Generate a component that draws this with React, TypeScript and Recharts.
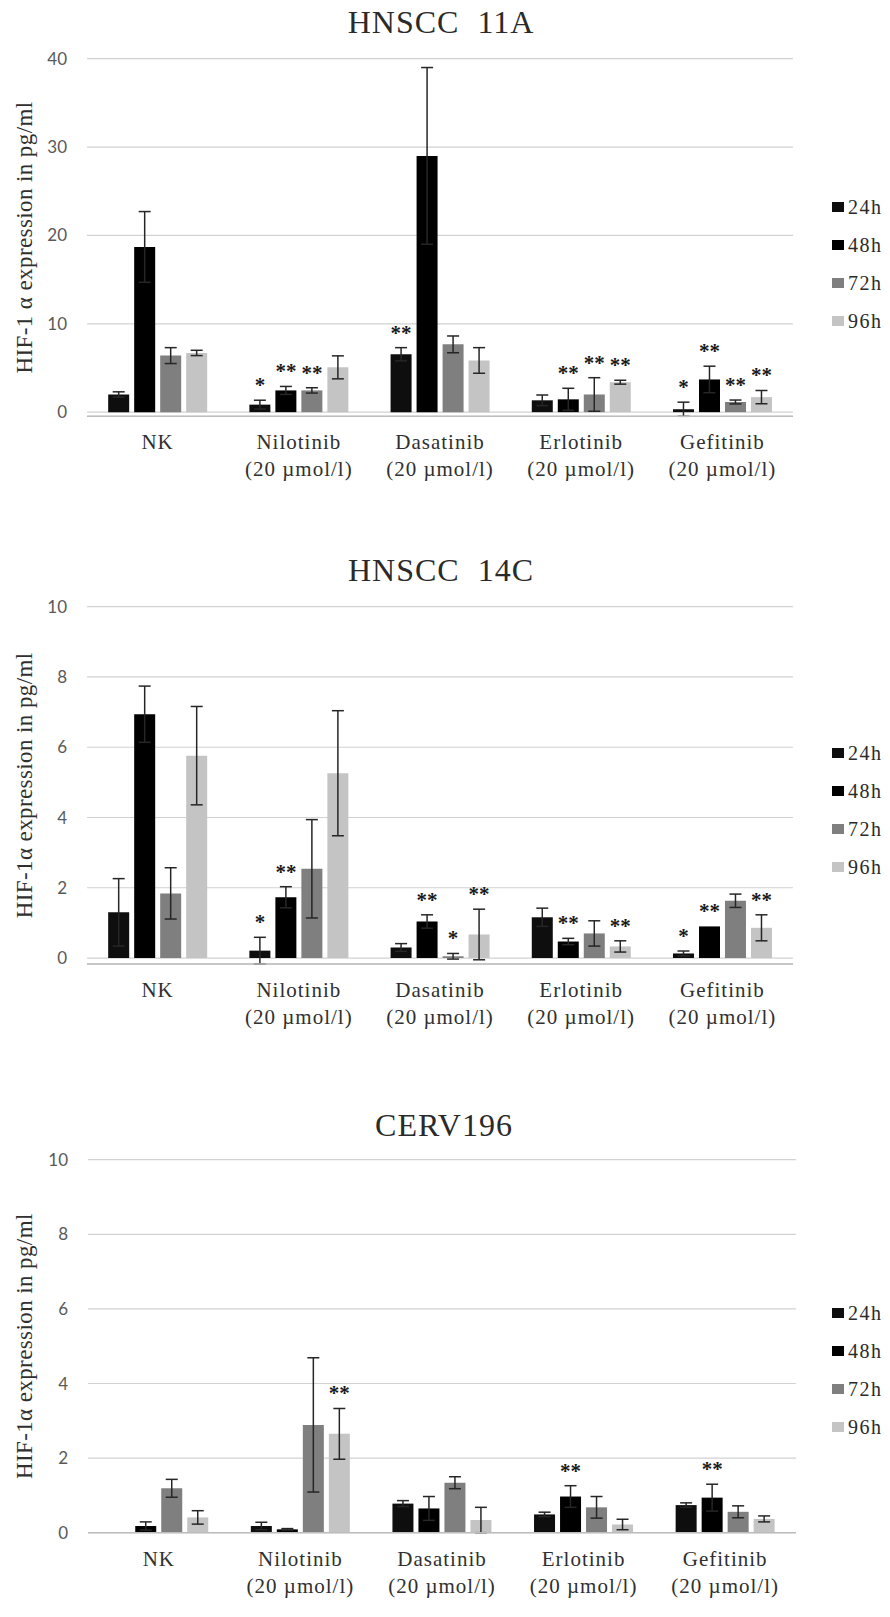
import React from 'react';
import { BarChart, Bar, XAxis, YAxis, CartesianGrid, ErrorBar, LabelList, Legend, Label } from 'recharts';

const categories = ['NK', 'Nilotinib', 'Dasatinib', 'Erlotinib', 'Gefitinib'];
const doseLabels = ['', '(20 µmol/l)', '(20 µmol/l)', '(20 µmol/l)', '(20 µmol/l)'];
const seriesNames = ['24h', '48h', '72h', '96h'];
const seriesColors = ['#0e0e0e', '#000000', '#7f7f7f', '#c4c4c4'];

// HNSCC 11A
const a24 = [2.0, 0.85, 6.55, 1.34, 0.33];
const a48 = [18.7, 2.46, 29.0, 1.45, 3.7];
const a72 = [6.4, 2.46, 7.67, 2.0, 1.15];
const a96 = [6.7, 5.07, 5.85, 3.39, 1.7];
const aErr24 = [0.3, 0.5, 0.75, 0.6, 0.8];
const aErr48 = [4.0, 0.45, 10.0, 1.25, 1.5];
const aErr72 = [0.9, 0.3, 0.95, 1.9, 0.22];
const aErr96 = [0.3, 1.3, 1.45, 0.22, 0.75];
const aSig24 = ['', '*', '**', '', '*'];
const aSig48 = ['', '**', '', '**', '**'];
const aSig72 = ['', '**', '', '**', '**'];
const aSig96 = ['', '', '', '**', '**'];

// HNSCC 14C
const b24 = [1.3, 0.21, 0.3, 1.16, 0.13];
const b48 = [6.94, 1.73, 1.04, 0.47, 0.9];
const b72 = [1.84, 2.54, 0.05, 0.7, 1.63];
const b96 = [5.76, 5.26, 0.67, 0.33, 0.86];
const bErr24 = [0.96, 0.38, 0.11, 0.26, 0.07];
const bErr48 = [0.8, 0.3, 0.19, 0.09, 0];
const bErr72 = [0.73, 1.4, 0.08, 0.36, 0.19];
const bErr96 = [1.4, 1.78, 0.72, 0.16, 0.37];
const bSig24 = ['', '*', '', '', '*'];
const bSig48 = ['', '**', '**', '**', '**'];
const bSig72 = ['', '', '*', '', ''];
const bSig96 = ['', '', '**', '**', '**'];

// CERV196
const c24 = [0, 0.18, 0.78, 0.49, 0.74];
const c48 = [0.18, 0.09, 0.65, 0.97, 0.94];
const c72 = [1.19, 2.89, 1.34, 0.68, 0.56];
const c96 = [0.41, 2.65, 0.34, 0.22, 0.37];
const cErr24 = [0, 0.1, 0.08, 0.06, 0.06];
const cErr48 = [0.11, 0.02, 0.32, 0.29, 0.36];
const cErr72 = [0.24, 1.8, 0.16, 0.29, 0.16];
const cErr96 = [0.18, 0.68, 0.34, 0.14, 0.08];
const cSig24 = ['', '', '', '', ''];
const cSig48 = ['', '', '', '**', '**'];
const cSig72 = ['', '', '', '', ''];
const cSig96 = ['', '**', '', '', ''];

const ticks40 = [0, 10, 20, 30, 40];
const ticks10 = [0, 2, 4, 6, 8, 10];

const serif = "'Liberation Serif', 'DejaVu Serif', serif";

const makeStar = (errs: number[], sigs: string[]) => (props: any) => {
  const i = props.index;
  const s = sigs[i];
  if (!s) return null;
  const vb = props.viewBox || {};
  const x = vb.x ?? props.x;
  const y = vb.y ?? props.y;
  const w = vb.width ?? props.width;
  const h = vb.height ?? props.height;
  const v = Number(props.value);
  const top = v > 0 ? y - (errs[i] * h) / v : y;
  return (
    <text
      x={x + w / 2}
      y={top - 8}
      textAnchor="middle"
      style={{ fontFamily: serif, fontSize: 21, fontWeight: 700, fill: '#1a1a1a' }}
    >
      {s}
    </text>
  );
};

const catStyle: React.CSSProperties = { fontFamily: serif, fontSize: 21, letterSpacing: 1, fill: '#303030' };

const CatTick = (props: any) => {
  const { x, y, payload } = props;
  const idx = categories.indexOf(payload.value);
  const dose = doseLabels[idx];
  return (
    <g>
      <text x={x} y={y + 33} textAnchor="middle" style={catStyle}>
        {payload.value}
      </text>
      {dose ? (
        <text x={x} y={y + 60} textAnchor="middle" style={catStyle}>
          {dose}
        </text>
      ) : null}
    </g>
  );
};

const legendContent = (props: any) => {
  const payload = props.payload && props.payload.length ? props.payload : seriesNames.map((n, s) => ({ value: n, color: seriesColors[s] }));
  return (
    <div>
      {payload.map((p: any) => (
        <div key={p.value} style={{ height: 38, display: 'flex', alignItems: 'center' }}>
          <span style={{ width: 12, height: 10, background: p.color, display: 'inline-block', marginRight: 4 }} />
          <span style={{ fontFamily: serif, fontSize: 20, letterSpacing: 1.5, color: '#2a2a2a', lineHeight: '20px' }}>{p.value}</span>
        </div>
      ))}
    </div>
  );
};

type PanelProps = {
  top: number;
  height: number;
  plotTop: number;
  plotBottom: number;
  plotLeft: number;
  plotRight: number;
  title: string;
  titleY: number;
  titleX: number;
  yMax: number;
  yTicks: number[];
  yTitle: string;
  values: number[][];
  errors: number[][];
  sigs: string[][];
  legendTop: number;
};

function Panel(p: PanelProps) {
  const data = categories.map((name, i) => {
    const row: any = { name };
    p.values.forEach((arr, s) => {
      row['v' + s] = arr[i];
      row['e' + s] = p.errors[s][i];
    });
    return row;
  });
  const xAxisH = 80;
  const cy = (p.plotTop + p.plotBottom) / 2;
  return (
    <div style={{ position: 'absolute', left: 0, top: p.top, width: 890, height: p.height }}>
      <div
        style={{
          position: 'absolute',
          left: p.titleX - 250,
          width: 500,
          top: p.titleY - 16,
          height: 32,
          lineHeight: '32px',
          textAlign: 'center',
          fontFamily: serif,
          fontSize: 32,
          letterSpacing: 1,
          color: '#2a2a2a',
          whiteSpace: 'pre',
          zIndex: 2,
        }}
      >
        {p.title}
      </div>
      <BarChart
        width={890}
        height={p.height}
        data={data}
        margin={{ top: p.plotTop, right: 890 - p.plotRight, left: 0, bottom: p.height - p.plotBottom - xAxisH }}
        barCategoryGap="15%"
        barGap={5}
      >
        <CartesianGrid vertical={false} stroke="#d2d2d2" strokeWidth={1.2} />
        <XAxis
          dataKey="name"
          height={xAxisH}
          tickLine={false}
          tickSize={0}
          tickMargin={0}
          axisLine={{ stroke: '#bdbdbd', strokeWidth: 1.5 }}
          tick={<CatTick />}
          interval={0}
        />
        <YAxis
          width={p.plotLeft}
          domain={[0, p.yMax]}
          ticks={p.yTicks}
          axisLine={false}
          tickLine={false}
          tickSize={0}
          tickMargin={20}
          tick={{ fontFamily: 'Lato', fontSize: 17, fill: '#595959' }}
        >
          <Label
            content={() => (
              <text
                transform={`translate(24, ${cy}) rotate(-90)`}
                textAnchor="middle"
                dominantBaseline="central"
                style={{ fontFamily: serif, fontSize: 23, letterSpacing: 0.4, fill: '#303030' }}
              >
                {p.yTitle}
              </text>
            )}
          />
        </YAxis>
        {seriesNames.map((n, s) => (
          <Bar key={n} dataKey={'v' + s} name={n} fill={seriesColors[s]} isAnimationActive={false}>
            <ErrorBar dataKey={'e' + s} width={6} stroke="#262626" strokeWidth={1.5} direction="y" />
            <LabelList dataKey={'v' + s} content={makeStar(p.errors[s], p.sigs[s])} />
          </Bar>
        ))}
        <Legend
          layout="horizontal"
          verticalAlign="middle"
          align="center"
          content={legendContent}
          wrapperStyle={{ position: 'absolute', left: 832, top: p.legendTop, width: 58, height: 152 }}
        />
      </BarChart>
    </div>
  );
}

export default function App() {
  return (
    <div style={{ position: 'absolute', left: 0, top: 0, width: 890, height: 1617, background: '#fff', overflow: 'hidden' }}>
      <Panel
        top={0}
        height={530}
        plotTop={58.7}
        plotBottom={416.3}
        plotLeft={87}
        plotRight={793}
        title={'HNSCC  11A'}
        titleY={22}
        titleX={441}
        yMax={40}
        yTicks={ticks40}
        yTitle={'HIF-1 α expression in pg/ml'}
        values={[a24, a48, a72, a96]}
        errors={[aErr24, aErr48, aErr72, aErr96]}
        sigs={[aSig24, aSig48, aSig72, aSig96]}
        legendTop={188}
      />
      <Panel
        top={540}
        height={540}
        plotTop={66.7}
        plotBottom={424}
        plotLeft={87}
        plotRight={793}
        title={'HNSCC  14C'}
        titleY={30}
        titleX={441}
        yMax={10}
        yTicks={ticks10}
        yTitle={'HIF-1α expression in pg/ml'}
        values={[b24, b48, b72, b96]}
        errors={[bErr24, bErr48, bErr72, bErr96]}
        sigs={[bSig24, bSig48, bSig72, bSig96]}
        legendTop={194}
      />
      <Panel
        top={1080}
        height={537}
        plotTop={79.7}
        plotBottom={452.7}
        plotLeft={88}
        plotRight={796}
        title={'CERV196'}
        titleY={45}
        titleX={444}
        yMax={10}
        yTicks={ticks10}
        yTitle={'HIF-1α expression in pg/ml'}
        values={[c24, c48, c72, c96]}
        errors={[cErr24, cErr48, cErr72, cErr96]}
        sigs={[cSig24, cSig48, cSig72, cSig96]}
        legendTop={214}
      />
    </div>
  );
}
